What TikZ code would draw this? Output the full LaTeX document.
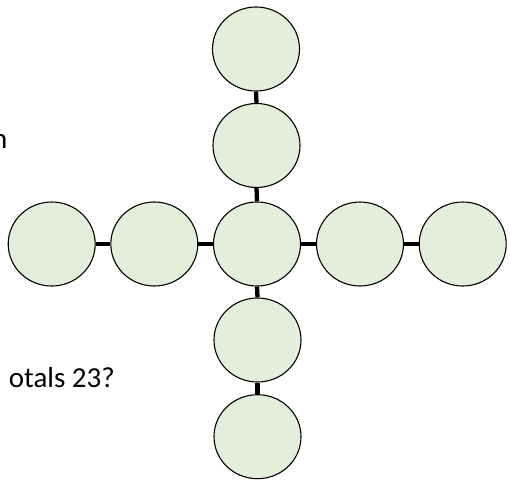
\documentclass[tikz,border=0pt]{standalone}
\usepackage{fontspec}
\setmainfont{Carlito}
\usetikzlibrary{shapes.geometric}
\definecolor{cfill}{RGB}{226,239,218}
\tikzset{
  cnode/.style={ellipse, draw=black, line width=1.1pt, fill=cfill, minimum width=87pt, minimum height=84pt, inner sep=0pt},
  link/.style={line width=4.3pt, black},
  clip text/.style={font=\fontsize{29}{35}\selectfont, inner sep=0pt, anchor=base east}
}
\begin{document}
\begin{tikzpicture}[x=1pt,y=-1pt]
\useasboundingbox (0,0) rectangle (510,479);
\node[clip text] (t1) at (7.5,148) {n};
\node[clip text] (t2) at (115,387) {otals 23?};
\node[cnode] (v1) at (256,49) {};
\node[cnode] (v2) at (256.5,145.5) {};
\node[cnode] (c) at (257,244) {};
\node[cnode] (v4) at (257.5,340) {};
\node[cnode] (v5) at (257.5,436.7) {};
\node[cnode] (h1) at (51.7,244) {};
\node[cnode] (h2) at (154.3,244) {};
\node[cnode] (h4) at (360,244) {};
\node[cnode] (h5) at (462.7,244) {};
\draw[link] (v1.south) -- (v2.north);
\draw[link] (v2.south) -- (c.north);
\draw[link] (c.south) -- (v4.north);
\draw[link] (v4.south) -- (v5.north);
\draw[link] (h1.east) -- (h2.west);
\draw[link] (h2.east) -- (c.west);
\draw[link] (c.east) -- (h4.west);
\draw[link] (h4.east) -- (h5.west);
\end{tikzpicture}
\end{document}
